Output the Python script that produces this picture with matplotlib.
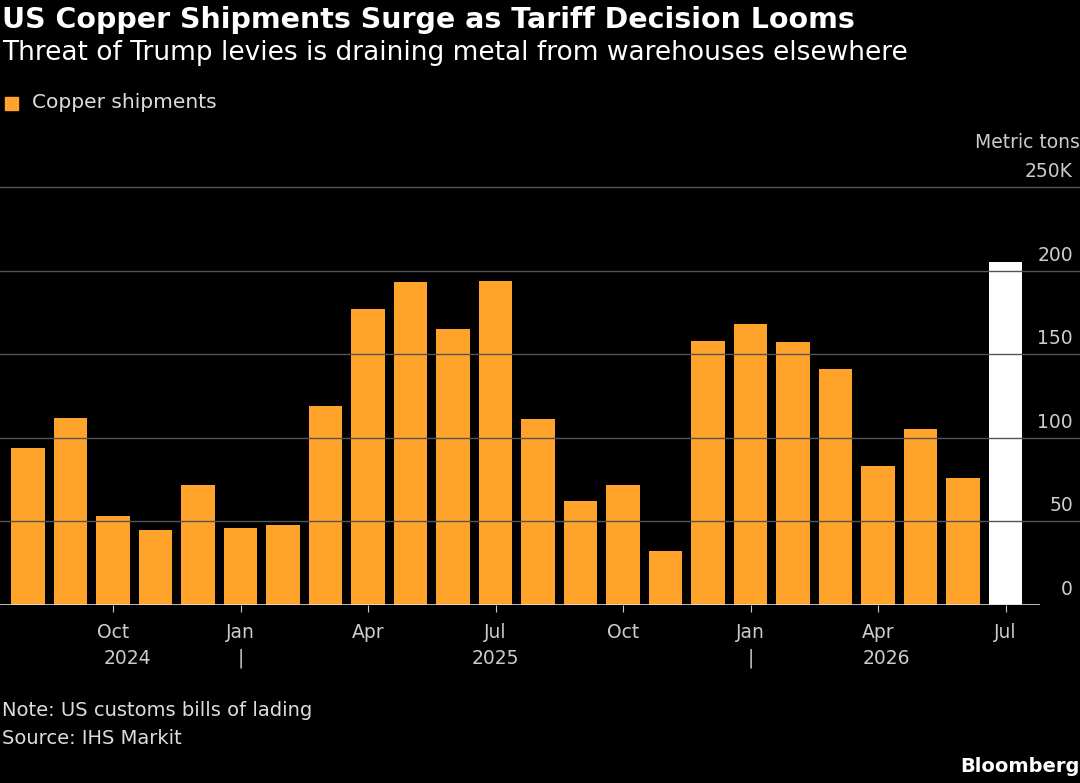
import matplotlib
matplotlib.use("Agg")
import matplotlib.pyplot as plt
import matplotlib.transforms as mtrans

values = [94, 112, 53, 45, 72, 46, 48, 119, 177, 193, 165, 194,
          111, 62, 72, 32, 158, 168, 157, 141, 83, 105, 76, 205]
month_ticks = {2: "Oct", 5: "Jan", 8: "Apr", 11: "Jul", 14: "Oct", 17: "Jan", 20: "Apr", 23: "Jul"}
year_labels = {2.35: "2024", 11.0: "2025", 20.2: "2026"}
year_seps = [5, 17]
yticks = [0, 50, 100, 150, 200, 250]
ytick_labels = ["0", "50", "100", "150", "200", "250K"]

W, H = 1080, 783
fig = plt.figure(figsize=(W/100, H/100), dpi=100, facecolor="black")
ax = fig.add_axes([0, 178/H, 1040/W, (605-187)/H])
ax.set_facecolor("black")
ax.set_xlim(-0.659, 23.81)
ax.set_ylim(0, 250)
colors = ["#ffa32b"]*23 + ["#ffffff"]
ax.bar(range(len(values)), values, width=0.78, color=colors, zorder=3)
for s in ax.spines.values():
    s.set_visible(False)
ax.set_yticks([])
ax.set_xticks(list(month_ticks.keys()))
ax.set_xticklabels(list(month_ticks.values()), color="#cccccc", fontsize=13.5)
ax.tick_params(axis="x", colors="#cccccc", length=5, pad=8, labelcolor="#cccccc")
ax.axhline(0, color="#dddddd", lw=1.2, zorder=4)
for v in yticks[1:]:
    y = 605 - v*(605-187)/250
    fig.add_artist(plt.Line2D([0, 1], [1-y/H]*2, color="#555555", lw=1, zorder=1))
for v, lab in zip(yticks, ytick_labels):
    y = 605 - v*(605-187)/250
    fig.text(1073/W, 1-(y-6)/H, lab, color="#cccccc", fontsize=13.5, ha="right", va="bottom")
fig.text(1080/W, 1-152/H, "Metric tons", color="#cccccc", fontsize=13.5, ha="right", va="bottom")
tr = mtrans.blended_transform_factory(ax.transData, fig.transFigure)
for x, lab in year_labels.items():
    ax.text(x, 1-658/H, lab, transform=tr, color="#cccccc", fontsize=13.5, ha="center", va="center")
for x in year_seps:
    ax.text(x, 1-658/H, "|", transform=tr, color="#cccccc", fontsize=13.5, ha="center", va="center")

fig.text(2/W, 1-20/H, "US Copper Shipments Surge as Tariff Decision Looms", color="white",
         fontsize=20.5, fontweight="bold", va="center")
fig.text(2/W, 1-53/H, "Threat of Trump levies is draining metal from warehouses elsewhere",
         color="white", fontsize=19, va="center")
fig.patches.append(plt.Rectangle((5/W, 1-110/H), 13/W, 13/H, transform=fig.transFigure, color="#ffa32b"))
fig.text(32/W, 1-103/H, "Copper shipments", color="#dddddd", fontsize=14.5, va="center")
fig.text(2/W, 1-710/H, "Note: US customs bills of lading", color="#dddddd", fontsize=14, va="center")
fig.text(2/W, 1-738/H, "Source: IHS Markit", color="#dddddd", fontsize=14, va="center")
fig.text(1080/W, 1-766/H, "Bloomberg", color="white", fontsize=14, fontweight="bold", ha="right", va="center")
fig.savefig("out.png", dpi=100, facecolor="black")
